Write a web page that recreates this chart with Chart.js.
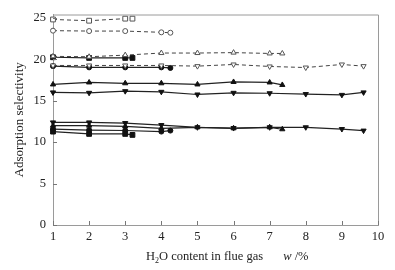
<!DOCTYPE html>
<html><head><meta charset="utf-8">
<script src="https://cdn.jsdelivr.net/npm/chart.js@4.4.0/dist/chart.umd.min.js"></script>
<style>html,body{margin:0;padding:0;background:#fff}#wrap{width:395px;height:270px}</style>
</head><body><div id="wrap"><canvas id="c" width="395" height="270"></canvas></div>
<script>
// x positions for each marker shape group
const xSquare = [1, 2, 3, 3.2];
const xCircle = [1, 2, 3, 4, 4.25];
const xUp = [1, 2, 3, 4, 5, 6, 7, 7.35];
const xDown = [1, 2, 3, 4, 5, 6, 7, 8, 9, 9.6];

// dashed, open markers
const dashSquare = [24.8, 24.65, 24.9, 24.9];
const dashCircle = [23.45, 23.4, 23.4, 23.25, 23.2];
const dashUp = [20.35, 20.3, 20.5, 20.75, 20.75, 20.8, 20.7, 20.7];
const dashDown = [19.25, 19.25, 19.25, 19.25, 19.17, 19.37, 19.13, 19.0, 19.37, 19.17];

// solid, filled markers (upper group)
const solidSquareHi = [20.24, 20.16, 20.16, 20.16];
const solidCircleHi = [19.17, 19.02, 19.02, 19.02, 18.95];
const solidUpHi = [16.96, 17.2, 17.1, 17.1, 16.96, 17.26, 17.2, 16.9];
const solidDownHi = [16.0, 15.95, 16.15, 16.07, 15.75, 15.95, 15.9, 15.8, 15.7, 16.0];

// solid, filled markers (lower group)
const solidSquareLo = [11.27, 10.99, 10.99, 10.87];
const solidCircleLo = [11.58, 11.46, 11.4, 11.27, 11.39];
const solidUpLo = [11.99, 11.99, 11.9, 11.67, 11.79, 11.67, 11.79, 11.55];
const solidDownLo = [12.38, 12.38, 12.3, 12.06, 11.79, 11.7, 11.79, 11.79, 11.58, 11.39];

const yTicks = [0, 5, 10, 15, 20, 25];
const xTicks = [1, 2, 3, 4, 5, 6, 7, 8, 9, 10];

function pts(xs, ys) { return xs.map((x, i) => ({x: x, y: ys[i]})); }

function ds(xs, ys, shape, dashed) {
  const rot = shape === 'down' ? 180 : 0;
  const ps = shape === 'down' || shape === 'up' ? 'triangle' : shape;
  const r = ps === 'rect' ? 3.4 : (ps === 'circle' ? 2.5 : 3);
  return {
    data: pts(xs, ys),
    borderColor: dashed ? '#444' : '#222',
    borderWidth: dashed ? 1 : 1.2,
    borderDash: dashed ? [4, 3] : [],
    pointStyle: ps,
    rotation: rot,
    pointRadius: r,
    pointBorderWidth: 1,
    pointBackgroundColor: dashed ? '#fff' : '#111',
    pointBorderColor: dashed ? '#555' : '#111',
    tension: 0,
    clip: 4
  };
}

const datasets = [
  ds(xSquare, dashSquare, 'rect', true),
  ds(xCircle, dashCircle, 'circle', true),
  ds(xUp, dashUp, 'up', true),
  ds(xDown, dashDown, 'down', true),
  ds(xSquare, solidSquareHi, 'rect', false),
  ds(xCircle, solidCircleHi, 'circle', false),
  ds(xUp, solidUpHi, 'up', false),
  ds(xDown, solidDownHi, 'down', false),
  ds(xSquare, solidSquareLo, 'rect', false),
  ds(xCircle, solidCircleLo, 'circle', false),
  ds(xUp, solidUpLo, 'up', false),
  ds(xDown, solidDownLo, 'down', false)
];

const FONT = '"Liberation Serif", "DejaVu Serif", serif';

const framePlugin = {
  id: 'frame',
  afterDraw(chart) {
    const {ctx, chartArea: a, scales} = chart;
    ctx.save();
    ctx.strokeStyle = '#9a9a9a';
    ctx.lineWidth = 1;
    ctx.beginPath();
    ctx.moveTo(a.left, a.top + 0.5);
    ctx.lineTo(a.right + 0.5, a.top + 0.5);
    ctx.lineTo(a.right + 0.5, a.bottom);
    ctx.stroke();
    // inward tick marks
    ctx.strokeStyle = '#777';
    ctx.beginPath();
    yTicks.forEach(v => {
      const y = Math.round(scales.y.getPixelForValue(v)) + 0.5;
      ctx.moveTo(a.left, y); ctx.lineTo(a.left + 4, y);
    });
    xTicks.forEach(v => {
      const x = Math.round(scales.x.getPixelForValue(v)) + 0.5;
      ctx.moveTo(x, a.bottom); ctx.lineTo(x, a.bottom - 4);
    });
    ctx.stroke();
    // x-axis title with subscript and italic
    ctx.fillStyle = '#222';
    ctx.textBaseline = 'alphabetic';
    ctx.textAlign = 'left';
    let x = 146, y = 260;
    ctx.font = '12.5px ' + FONT;
    ctx.fillText('H', x, y); x += ctx.measureText('H').width;
    ctx.font = '8px ' + FONT;
    ctx.fillText('2', x, y + 2.5); x += ctx.measureText('2').width;
    ctx.font = '12.5px ' + FONT;
    const t = 'O content in flue gas';
    ctx.fillText(t, x, y); x += ctx.measureText(t).width;
    x += 20;
    ctx.font = 'italic 12.5px ' + FONT;
    ctx.fillText('w', x, y); x += ctx.measureText('w ').width;
    ctx.font = '12.5px ' + FONT;
    ctx.fillText('/%', x, y);
    ctx.restore();
  }
};

new Chart(document.getElementById('c'), {
  type: 'line',
  data: {datasets},
  options: {
    responsive: false,
    animation: false,
    layout: {padding: {top: 12, right: 17, left: 0, bottom: 0}},
    plugins: {legend: {display: false}, tooltip: {enabled: false}},
    scales: {
      x: {
        type: 'linear', min: 1, max: 10,
        afterBuildTicks: s => { s.ticks = xTicks.map(v => ({value: v})); },
        afterFit: s => { s.height = 45; },
        grid: {display: false, drawTicks: false},
        border: {display: true, color: '#9a9a9a', width: 1},
        ticks: {color: '#222', font: {family: FONT, size: 12.5}, padding: 4, maxRotation: 0}
      },
      y: {
        type: 'linear', min: 0, max: 25.4,
        afterBuildTicks: s => { s.ticks = yTicks.map(v => ({value: v})); },
        afterFit: s => { s.width = 53; },
        grid: {display: false, drawTicks: false},
        border: {display: true, color: '#9a9a9a', width: 1},
        title: {display: true, text: 'Adsorption selectivity', color: '#222', font: {family: FONT, size: 13}, padding: {top: 12, bottom: 0}},
        ticks: {color: '#222', font: {family: FONT, size: 12.5}, padding: 7}
      }
    }
  },
  plugins: [framePlugin]
});
</script></body></html>
